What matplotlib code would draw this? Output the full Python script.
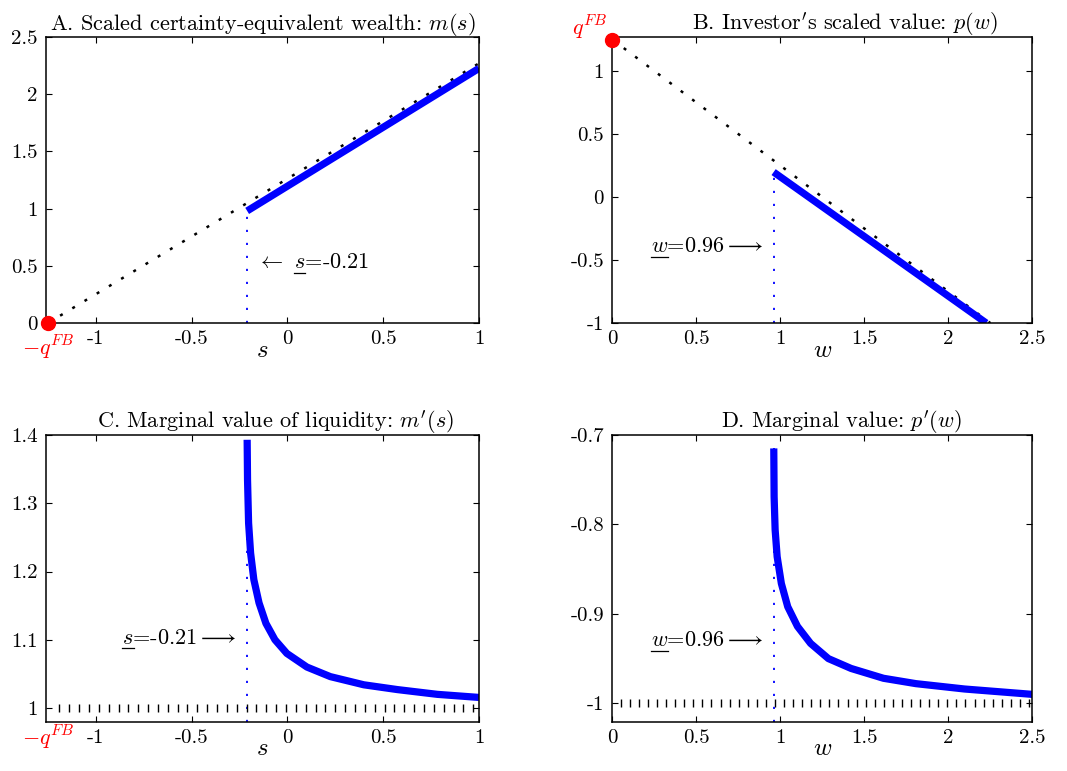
"""Certainty-equivalent wealth and investor value, four-panel figure."""

import matplotlib

matplotlib.use("Agg")
import matplotlib.pyplot as plt
from matplotlib.lines import Line2D
import numpy as np

plt.rcParams["font.family"] = "serif"
plt.rcParams["font.serif"] = ["cmr10", "DejaVu Serif"]
plt.rcParams["mathtext.fontset"] = "cm"
plt.rcParams["axes.unicode_minus"] = False
plt.rcParams["axes.formatter.use_mathtext"] = True

# ---- data ----
q_fb = 1.25
s_threshold = -0.21
w_threshold = 0.96

# panel A: m(s)
s_fb = [-1.25, 1.0]
m_fb = [0.0, 2.27]
s_sb = [-0.21, 1.0]
m_sb = [0.98, 2.226]

# panel B: p(w)
w_fb = [0.0, 2.25]
p_fb = [1.25, -1.0]
w_sb = [0.96, 2.226]
p_sb = [0.198, -1.0]

# panel C: m'(s)
s_curve = [-0.210, -0.208, -0.2025, -0.192, -0.175, -0.148, -0.112, -0.065,
           -0.003, 0.102, 0.224, 0.399, 0.574, 0.783, 1.0]
dm_curve = [1.393, 1.334, 1.271, 1.227, 1.188, 1.154, 1.124, 1.100,
            1.080, 1.060, 1.046, 1.034, 1.027, 1.020, 1.0155]
dm_fb = 1.0

# panel D: p'(w)
w_curve = [0.961, 0.963, 0.969, 0.981, 1.006, 1.044, 1.102, 1.180, 1.286,
           1.421, 1.614, 1.807, 2.097, 2.434, 2.5]
dp_curve = [-0.715, -0.769, -0.806, -0.836, -0.866, -0.892, -0.914, -0.933,
            -0.950, -0.961, -0.972, -0.978, -0.984, -0.989, -0.990]
dp_fb = -1.0

s_ticks = [-1, -0.5, 0, 0.5, 1]
s_ticklabels = ["-1", "-0.5", "0", "0.5", "1"]
w_ticks = [0, 0.5, 1, 1.5, 2, 2.5]
w_ticklabels = ["0", "0.5", "1", "1.5", "2", "2.5"]
a_yticks = [0, 0.5, 1, 1.5, 2, 2.5]
a_yticklabels = ["0", "0.5", "1", "1.5", "2", "2.5"]
b_yticks = [-1, -0.5, 0, 0.5, 1]
b_yticklabels = ["-1", "-0.5", "0", "0.5", "1"]
c_yticks = [1, 1.1, 1.2, 1.3, 1.4]
c_yticklabels = ["1", "1.1", "1.2", "1.3", "1.4"]
d_yticks = [-1, -0.9, -0.8, -0.7]
d_yticklabels = ["-1", "-0.9", "-0.8", "-0.7"]

BLUE = "#0000ff"
FS_TICK = 15
FS_TITLE = 16
FS_NOTE = 16
FS_LABEL = 18
FS_Q = 16

fig = plt.figure(figsize=(10.67, 7.71), dpi=100)
ax_a = fig.add_axes([0.0431, 0.581, 0.4058, 0.371])
ax_b = fig.add_axes([0.5739, 0.581, 0.3936, 0.371])
ax_c = fig.add_axes([0.0431, 0.064, 0.4058, 0.3718])
ax_d = fig.add_axes([0.5739, 0.064, 0.3936, 0.3718])


def style_axes(ax, xticks, xlabels, yticks, ylabels, xlabel):
    ax.set_xticks(xticks)
    ax.set_xticklabels(xlabels)
    ax.set_yticks(yticks)
    ax.set_yticklabels(ylabels)
    ax.tick_params(direction="in", top=True, right=True, length=4, width=0.8,
                   labelsize=FS_TICK)
    ax.tick_params(axis="x", pad=5)
    ax.tick_params(axis="y", pad=6)
    for spine in ax.spines.values():
        spine.set_linewidth(1.1)
    ax.set_xlabel(xlabel, fontsize=FS_LABEL, labelpad=-6)


def fb_dotted(ax, x, y):
    ax.plot(x, y, color="black", linestyle=(0, (1.2, 4.5)), linewidth=1.8)


def tick_row(ax, x_lo, x_hi, level, count):
    xs = np.linspace(x_lo, x_hi, count)
    ax.plot(xs, np.full_like(xs, level), linestyle="none", marker="|",
            color="black", markersize=6, markeredgewidth=1.0)


def threshold_line(ax, x, y_lo, y_hi):
    ax.plot([x, x], [y_lo, y_hi], color=BLUE, linestyle=(0, (1.2, 6)),
            linewidth=1.3, zorder=1)


def blue_curve(ax, x, y):
    ax.plot(x, y, color=BLUE, linewidth=5.2, solid_joinstyle="round",
            solid_capstyle="butt")


labels = []


def note(ax, x, y, before, var, after, ha):
    t = ax.text(x, y, before + var + after, ha=ha, va="baseline",
                fontsize=FS_NOTE)
    labels.append((ax, t, x, y, before, var))


# panel A
ax = ax_a
fb_dotted(ax, s_fb, m_fb)
threshold_line(ax, s_threshold, 0, m_sb[0])
blue_curve(ax, s_sb, m_sb)
ax.plot([-q_fb], [0], marker="o", color="red", markersize=10, clip_on=False,
        zorder=5)
ax.set_xlim(-1.26, 1)
ax.set_ylim(0, 2.5)
style_axes(ax, s_ticks, s_ticklabels, a_yticks, a_yticklabels, "$s$")
ax.set_title("A. Scaled certainty-equivalent wealth: $m(s)$",
             fontsize=FS_TITLE, pad=5)
ax.text(-1.25, -0.1, "$-q^{FB}$", color="red", ha="center", va="top",
        fontsize=FS_Q)
note(ax, -0.16, 0.48, r"$\leftarrow$ ", "$s$", "=-0.21", "left")

# panel B
ax = ax_b
fb_dotted(ax, w_fb, p_fb)
threshold_line(ax, w_threshold, -1, p_sb[0])
blue_curve(ax, w_sb, p_sb)
ax.plot([0], [q_fb], marker="o", color="red", markersize=10, clip_on=False,
        zorder=5)
ax.set_xlim(0, 2.5)
ax.set_ylim(-1, 1.27)
style_axes(ax, w_ticks, w_ticklabels, b_yticks, b_yticklabels, "$w$")
ax.set_title("B. Investor$'$s scaled value: $p(w)$", fontsize=FS_TITLE,
             pad=5, x=0.554)
ax.text(-0.03, q_fb - 0.02, "$q^{FB}$", color="red", ha="right",
        va="bottom", fontsize=FS_Q)
note(ax, 0.9, -0.437, "", "$w$", r"=0.96$\longrightarrow$", "right")

# panel C
ax = ax_c
tick_row(ax, -1.19, 0.97, dm_fb, 43)
threshold_line(ax, s_threshold, 0.98, dm_curve[0])
blue_curve(ax, s_curve, dm_curve)
ax.set_xlim(-1.26, 1)
ax.set_ylim(0.98, 1.4)
style_axes(ax, s_ticks, s_ticklabels, c_yticks, c_yticklabels, "$s$")
ax.set_title("C. Marginal value of liquidity: $m'(s)$", fontsize=FS_TITLE,
             pad=5, x=0.531)
ax.text(-1.25, 0.9765, "$-q^{FB}$", color="red", ha="center", va="top",
        fontsize=FS_Q)
note(ax, -0.265, 1.094, "", "$s$", r"=-0.21$\longrightarrow$", "right")

# panel D
ax = ax_d
tick_row(ax, 0.05, 2.48, dp_fb, 46)
threshold_line(ax, w_threshold, -1.0205, dp_curve[0])
blue_curve(ax, w_curve, dp_curve)
ax.set_xlim(0, 2.5)
ax.set_ylim(-1.0205, -0.7)
style_axes(ax, w_ticks, w_ticklabels, d_yticks, d_yticklabels, "$w$")
ax.set_title("D. Marginal value: $p'(w)$", fontsize=FS_TITLE, pad=5,
             x=0.545)
note(ax, 0.9, -0.936, "", "$w$", r"=0.96$\longrightarrow$", "right")

# underline the threshold variable in each note
fig.canvas.draw()
renderer = fig.canvas.get_renderer()


def text_width(ax, s):
    tmp = ax.text(0, 0, s, fontsize=FS_NOTE)
    w = tmp.get_window_extent(renderer).width
    tmp.remove()
    return w


for ax, t, x, y, before, var in labels:
    bb = t.get_window_extent(renderer)
    x1 = bb.x0 + text_width(ax, before + var)
    x0 = x1 - text_width(ax, var)
    base = ax.transData.transform((x, y))[1]
    yy = base - 4.5
    (fx0, fy), (fx1, _) = fig.transFigure.inverted().transform([(x0, yy), (x1, yy)])
    fig.add_artist(Line2D([fx0, fx1], [fy, fy], color="black", linewidth=0.9,
                          transform=fig.transFigure))

fig.savefig("out.png", dpi=100)
